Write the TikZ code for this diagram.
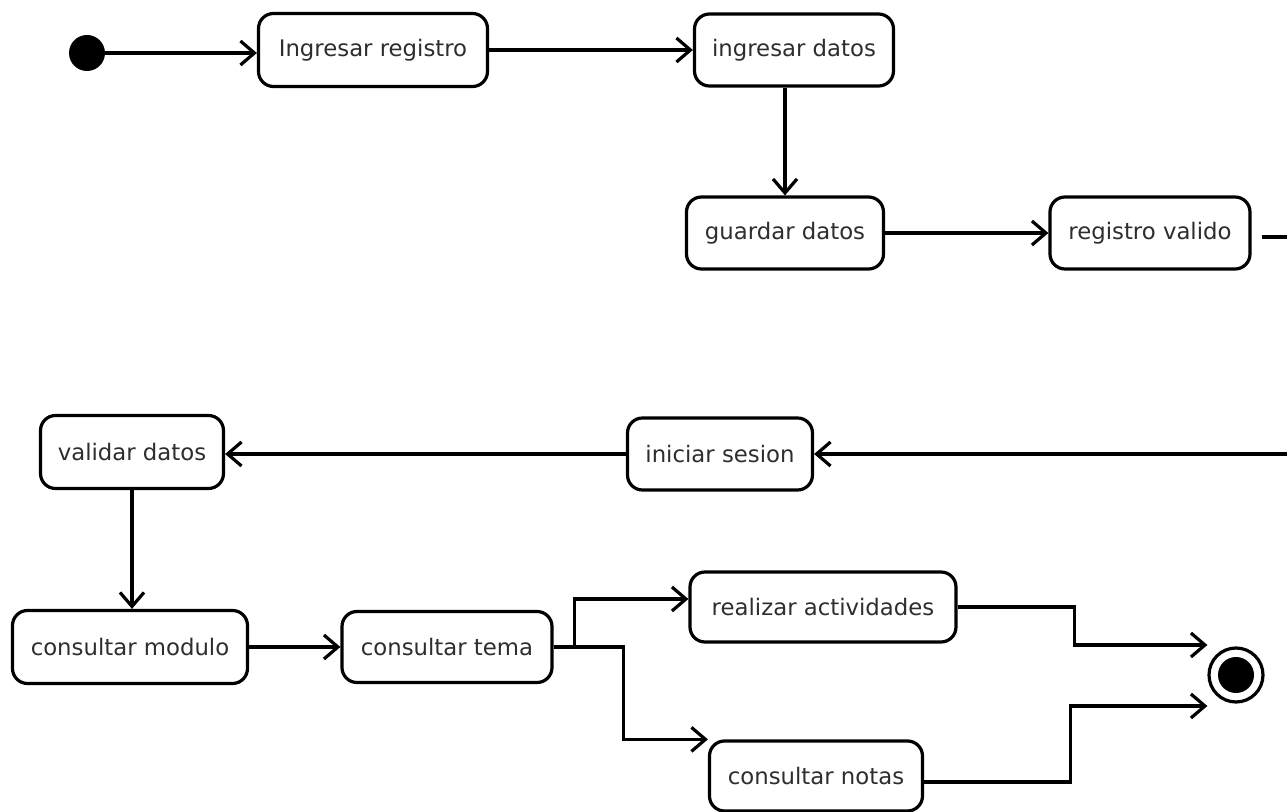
\documentclass[tikz,border=0pt]{standalone}
\usepackage{fontspec}
\setmainfont{DejaVu Sans}
\usetikzlibrary{arrows.meta,calc}

\tikzset{
  activity/.style={draw=black, line width=1.6pt, rounded corners=7.5pt, fill=white,
    inner sep=0pt, font=\fontsize{11.4}{13}\selectfont, text=black!82},
  flow/.style={draw=black, line width=1.6pt,
    -{Straight Barb[length=7pt,width=12pt]}},
  plain/.style={draw=black, line width=1.6pt},
  initial/.style={circle, fill=black, minimum size=18pt, inner sep=0pt},
  finalring/.style={circle, draw=black, line width=1.6pt, minimum size=27pt, inner sep=0pt},
  finaldot/.style={circle, fill=black, minimum size=18pt, inner sep=0pt},
}

\begin{document}
\begin{tikzpicture}[x=0.5pt, y=-0.5pt]
  \useasboundingbox (0,0) rectangle (1287,812);

  % start and end states
  \node[initial] (start) at (87,53) {};
  \node[finalring] (end) at (1236,675) {};
  \node[finaldot] (enddot) at (end.center) {};

  % registration activities
  \node[activity, minimum width=114.5pt, minimum height=36.5pt] (ing)   at (373,50)  {Ingresar registro};
  \node[activity, minimum width=99.5pt,  minimum height=36pt]   (dat)   at (794,50)  {ingresar datos};
  \node[activity, minimum width=98.5pt,  minimum height=36pt]   (gua)   at (785,233) {guardar datos};
  \node[activity, minimum width=100pt,   minimum height=36pt]   (val)   at (1150,233) {registro valido};

  % session activities
  \node[activity, minimum width=92.5pt,  minimum height=36pt]   (ini)   at (720,454) {iniciar sesion};
  \node[activity, minimum width=91.5pt,  minimum height=36.5pt] (vd)    at (132,452) {validar datos};
  \node[activity, minimum width=117.5pt, minimum height=36.5pt] (mod)   at (130,647) {consultar modulo};
  \node[activity, minimum width=105pt,   minimum height=35.5pt] (tema)  at (447,647) {consultar tema};
  \node[activity, minimum width=133pt,   minimum height=35pt]   (act)   at (823,607) {realizar actividades};
  \node[activity, minimum width=106.5pt, minimum height=35pt]   (notas) at (816,776) {consultar notas};

  % off-page continuation points
  \coordinate (outA) at (1287,237);
  \coordinate (inB)  at (1287,454);

  % connectors
  \draw[flow] (start) -- (start -| ing.west);
  \draw[flow] (ing) -- (dat);
  \draw[flow] (dat.south -| gua.north) -- (gua.north);
  \draw[flow] (gua) -- (val);
  \draw[plain] ($(val.east)+(10,4)$) -- (outA);
  \draw[flow] (inB) -- (inB -| ini.east);
  \draw[flow] (ini.west) -- (ini.west -| vd.east);
  \draw[flow] (vd.south) -- (vd.south |- mod.north);
  \draw[flow] (mod) -- (tema);
  \draw[flow] (tema.east) -- ++(21,0) |- ($(act.west)+(0,-8)$);
  \draw[flow] (tema.east) -- ++(70,0) |- (notas.north west);
  \draw[flow] (act.east) -- ++(117,0) |- ($(end.west)+(0,-30)$);
  \draw[flow] ($(notas.east)+(0,6)$) -- ++(146,0) |- ($(end.west)+(0,31)$);
\end{tikzpicture}
\end{document}
